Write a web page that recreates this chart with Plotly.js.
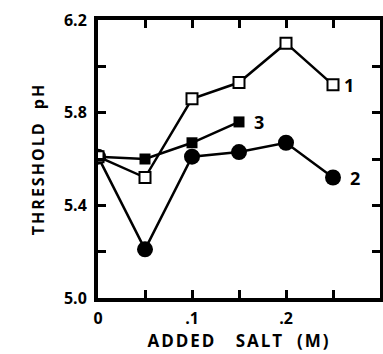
<!DOCTYPE html>
<html>
<head>
<meta charset="utf-8">
<script src="https://cdn.plot.ly/plotly-3.0.1.min.js"></script>
<style>
.xtitle,.ytitle{letter-spacing:2px;}
</style>
</head>
<body style="margin:0">
<div id="chart"></div>
<script>
// Added salt (M)
var salt1 = [0, 0.05, 0.1, 0.15, 0.2, 0.25];
var ph1   = [5.61, 5.52, 5.86, 5.93, 6.10, 5.92];   // curve 1, open squares
var salt2 = [0, 0.05, 0.1, 0.15, 0.2, 0.25];
var ph2   = [5.61, 5.21, 5.61, 5.63, 5.67, 5.52];   // curve 2, filled circles
var salt3 = [0, 0.05, 0.1, 0.15];
var ph3   = [5.61, 5.60, 5.67, 5.76];               // curve 3, filled squares
var curveLabels = ["1", "2", "3"];
var xTickVals = [0, 0.05, 0.1, 0.15, 0.2, 0.25, 0.3];
var xTickText = ["0", "", ".1", "", ".2", "", ".3"];
var yTickVals = [5.0, 5.2, 5.4, 5.6, 5.8, 6.0, 6.2];
var yTickText = ["5.0", "", "5.4", "", "5.8", "", "6.2"];

var F = "Open Sans";
var line = {color: "#000", width: 2.5};

var traces = [
  {x: salt2, y: ph2, mode: "lines+markers", line: line,
   marker: {symbol: "circle", size: 16, color: "#000"}},
  {x: salt3, y: ph3, mode: "lines+markers", line: line,
   marker: {symbol: "square", size: 11, color: "#000"}},
  {x: salt1, y: ph1, mode: "lines+markers", line: line,
   marker: {symbol: "square", size: 11, color: "#fff", line: {color: "#000", width: 2}}}
];

var annFont = {family: F, size: 18, color: "#000", weight: "bold"};
var annotations = [
  {x: salt1[salt1.length-1], y: ph1[ph1.length-1], text: curveLabels[0], xshift: 16},
  {x: salt2[salt2.length-1], y: ph2[ph2.length-1], text: curveLabels[1], xshift: 22},
  {x: salt3[salt3.length-1], y: ph3[ph3.length-1], text: curveLabels[2], xshift: 20}
].map(function(a){
  a.xref = "x"; a.yref = "y"; a.showarrow = false; a.font = annFont; a.xanchor = "center";
  return a;
});

var layout = {
  width: 383, height: 354,
  margin: {l: 98, r: 3, t: 20, b: 56},
  showlegend: false,
  font: {family: F, color: "#000"},
  xaxis: {
    range: [0, 0.3], showgrid: false, zeroline: false,
    showline: true, linewidth: 4, linecolor: "#000", mirror: "ticks",
    ticks: "inside", ticklen: 8, tickwidth: 3, tickcolor: "#000",
    tickvals: xTickVals, ticktext: xTickText,
    tickfont: {family: F, size: 16, weight: "bold"},
    ticklabelstandoff: 3,
    title: {text: "ADDED\u00a0\u00a0\u00a0SALT\u00a0\u00a0(M)", font: {family: F, size: 17, weight: "bold"}, standoff: 0}
  },
  yaxis: {
    range: [5.0, 6.2], showgrid: false, zeroline: false,
    showline: true, linewidth: 4, linecolor: "#000", mirror: "ticks",
    ticks: "inside", ticklen: 8, tickwidth: 3, tickcolor: "#000",
    tickvals: yTickVals, ticktext: yTickText,
    tickfont: {family: F, size: 16, weight: "bold"},
    ticklabelstandoff: 4,
    title: {text: "THRESHOLD\u00a0\u00a0pH", font: {family: F, size: 16, weight: "bold"}, standoff: 16}
  },
  annotations: annotations
};

Plotly.newPlot("chart", traces, layout, {displayModeBar: false});
</script>
</body>
</html>
